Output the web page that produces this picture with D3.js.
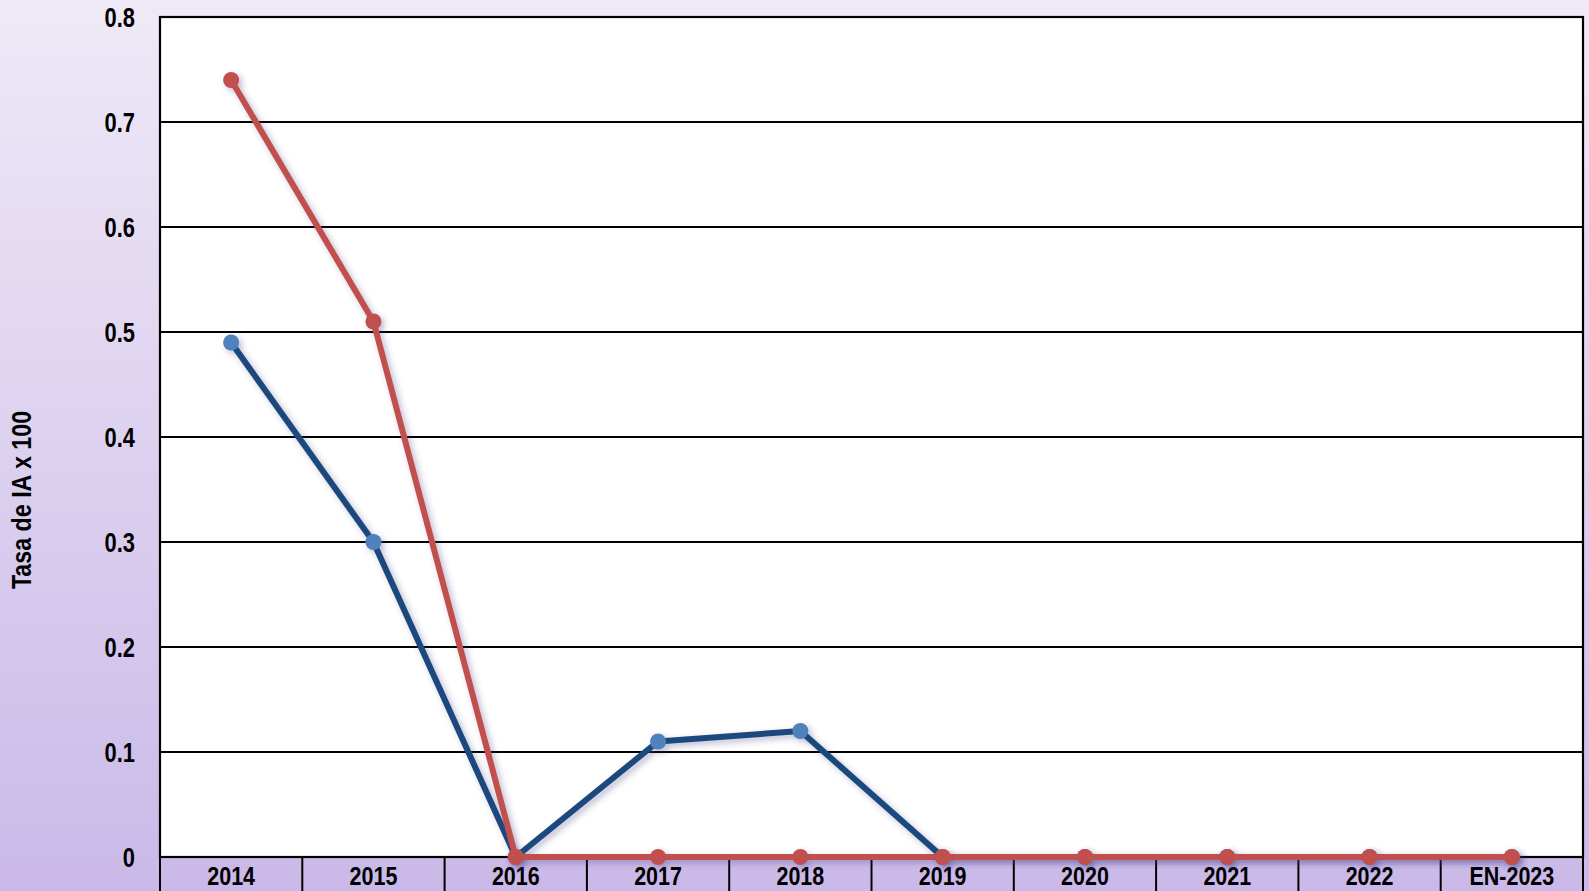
<!DOCTYPE html>
<html>
<head>
<meta charset="utf-8">
<script src="https://cdn.jsdelivr.net/npm/d3@7"></script>
<style>
  html, body { margin: 0; padding: 0; }
  body { width: 1589px; height: 891px; overflow: hidden; }
  text { font-family: "Liberation Sans Narrow", "Arial Narrow", "Liberation Sans", Arial, sans-serif; font-weight: bold; fill: #000; }
</style>
</head>
<body>
<svg id="chart" width="1589" height="891"></svg>
<script>
// Categories and series
const years = ["2014", "2015", "2016", "2017", "2018", "2019", "2020", "2021", "2022", "EN-2023"];
const serieAzul = [0.49, 0.30, 0, 0.11, 0.12, 0, 0, 0, 0, 0];
const serieRoja = [0.74, 0.51, 0, 0, 0, 0, 0, 0, 0, 0];
const yTicks = [0, 0.1, 0.2, 0.3, 0.4, 0.5, 0.6, 0.7, 0.8];
const yTitle = "Tasa de IA x 100";

const W = 1589, H = 891;
const margin = { top: 17, right: 6, bottom: 34, left: 160 };
const iw = W - margin.left - margin.right;
const ih = H - margin.top - margin.bottom;
const narrow = 0.81; // horizontal squeeze to get a condensed face

const svg = d3.select("#chart");
const defs = svg.append("defs");

const bg = defs.append("linearGradient").attr("id", "bgGrad")
  .attr("x1", 0).attr("y1", 0).attr("x2", 0).attr("y2", 1);
bg.append("stop").attr("offset", "0%").attr("stop-color", "#efe9f7");
bg.append("stop").attr("offset", "100%").attr("stop-color", "#cab9e8");

const shadow = defs.append("filter").attr("id", "shadow")
  .attr("x", "-10%").attr("y", "-10%").attr("width", "120%").attr("height", "120%");
shadow.append("feDropShadow").attr("dx", 3).attr("dy", 3).attr("stdDeviation", 3)
  .attr("flood-color", "#3a3a80").attr("flood-opacity", 0.35);

svg.append("rect").attr("width", W).attr("height", H).attr("fill", "url(#bgGrad)");

const g = svg.append("g").attr("transform", `translate(${margin.left},${margin.top})`);

const x = d3.scaleBand().domain(years).range([0, iw]);
const y = d3.scaleLinear().domain([0, 0.8]).range([ih, 0]);

// Plot area
g.append("rect").attr("width", iw).attr("height", ih).attr("fill", "#fff");

// Horizontal grid lines
g.append("g").selectAll("line").data(yTicks).join("line")
  .attr("x1", 0).attr("x2", iw)
  .attr("y1", d => y(d)).attr("y2", d => y(d))
  .attr("stroke", "#000").attr("stroke-width", 2);

// Frame
g.append("rect").attr("width", iw).attr("height", ih)
  .attr("fill", "none").attr("stroke", "#000").attr("stroke-width", 2.2);

// Y axis labels
const yAxis = d3.axisLeft(y).tickValues(yTicks).tickSize(0).tickPadding(0)
  .tickFormat(d => d === 0 ? "0" : d3.format(".1f")(d));
const ya = g.append("g").call(yAxis);
ya.select(".domain").remove();
ya.selectAll("text")
  .attr("font-size", 27).attr("font-family", null)
  .attr("x", 0).attr("dy", "0.36em")
  .attr("transform", `translate(-25,0) scale(${narrow},1)`);

// Category separators in the band below the plot
g.append("g").selectAll("line").data(d3.range(years.length + 1)).join("line")
  .attr("x1", i => i * x.step()).attr("x2", i => i * x.step())
  .attr("y1", ih).attr("y2", H - margin.top)
  .attr("stroke", "#000").attr("stroke-width", 2);

// X axis labels
const xAxis = d3.axisBottom(x).tickSize(0);
const xa = g.append("g").attr("transform", `translate(0,${ih})`).call(xAxis);
xa.select(".domain").remove();
xa.selectAll("text")
  .attr("font-size", 26.5).attr("font-family", null)
  .attr("y", 28.5).attr("dy", 0)
  .attr("transform", `scale(${narrow},1)`);

// Axis title
svg.append("text")
  .attr("transform", `translate(31,500) rotate(-90) scale(0.83,1)`)
  .attr("text-anchor", "middle")
  .attr("font-size", 28)
  .text(yTitle);

const line = d3.line().x((d, i) => x(years[i]) + x.bandwidth() / 2).y(d => y(d));

function drawSeries(data, lineColor, dotColor) {
  const s = g.append("g").attr("filter", "url(#shadow)");
  s.append("path").datum(data).attr("d", line)
    .attr("fill", "none").attr("stroke", lineColor).attr("stroke-width", 6)
    .attr("stroke-linejoin", "round");
  s.selectAll("circle").data(data).join("circle")
    .attr("cx", (d, i) => x(years[i]) + x.bandwidth() / 2)
    .attr("cy", d => y(d)).attr("r", 8)
    .attr("fill", dotColor);
}

drawSeries(serieAzul, "#1f497d", "#4f81bd");
drawSeries(serieRoja, "#c0504d", "#c0504d");
</script>
</body>
</html>
